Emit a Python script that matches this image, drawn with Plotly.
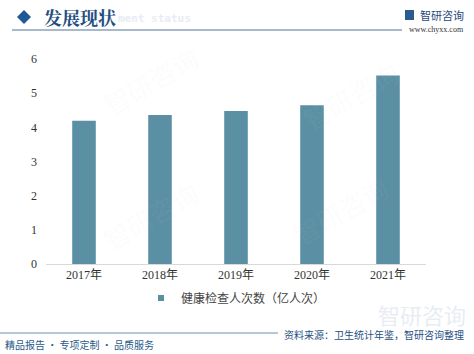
import plotly.graph_objects as go

years = ["2017年", "2018年", "2019年", "2020年", "2021年"]
values = [4.19, 4.36, 4.48, 4.65, 5.52]
series_name = "健康检查人次数（亿人次）"
y_ticks = [0, 1, 2, 3, 4, 5, 6]

BAR = "#5B8FA3"
FONT = "Liberation Serif, Noto Sans CJK SC, serif"
CJK = "Noto Sans CJK SC, sans-serif"

W, H = 474, 354
L, R, T, B = 46, 426, 59, 264  # plot area in pixels

fig = go.Figure()
fig.add_trace(go.Bar(x=years, y=values, name=series_name, marker_color=BAR,
                     marker_line_width=0, width=0.31, showlegend=False))
# legend entry with a small square marker, as in the reference
fig.add_trace(go.Scatter(x=[None], y=[None], mode="markers", name=series_name,
                         marker=dict(symbol="square", size=6, color=BAR)))

fig.update_layout(
    width=W, height=H,
    margin=dict(l=L, r=W - R, t=T, b=H - B),
    paper_bgcolor="white", plot_bgcolor="white",
    showlegend=True,
    legend=dict(orientation="h", x=0.5, xanchor="center",
                y=(B - 298) / (B - T), yanchor="middle",
                font=dict(family=CJK, size=12, color="#444"),
                itemwidth=30, bgcolor="rgba(0,0,0,0)"),
    xaxis=dict(showline=True, linecolor="#d9d9d9", linewidth=1, ticks="",
               tickfont=dict(family=FONT, size=12, color="#333"), showgrid=False,
               fixedrange=True, type="category"),
    yaxis=dict(range=[0, 6], tickvals=y_ticks, showgrid=False, zeroline=False,
               showline=False, ticks="", ticklabelstandoff=8,
               tickfont=dict(family=FONT, size=12, color="#333")),
    bargap=0.69,
)


def px(x):
    return (x - L) / (R - L)


def py(y):
    return (B - y) / (B - T)


shapes = []
annotations = []

# header line
shapes.append(dict(type="line", xref="paper", yref="paper",
                   x0=px(12), x1=px(402), y0=py(30), y1=py(30),
                   line=dict(color="#8aa2bd", width=1.5)))
# diamond
cx, cy, r = 24, 17, 7
shapes.append(dict(type="path", xref="paper", yref="paper",
                   path=f"M {px(cx-r)},{py(cy)} L {px(cx)},{py(cy-r)} L {px(cx+r)},{py(cy)} L {px(cx)},{py(cy+r)} Z",
                   fillcolor="#1f5a96", line=dict(width=0)))
# footer line
shapes.append(dict(type="line", xref="paper", yref="paper",
                   x0=px(0), x1=px(278), y0=py(333), y1=py(333),
                   line=dict(color="#6f8fb3", width=1.2)))
# small logo icon
shapes.append(dict(type="rect", xref="paper", yref="paper",
                   x0=px(405), x1=px(414), y0=py(20), y1=py(10),
                   fillcolor="#2b5a8f", line=dict(width=0)))


def ann(text, x, y, size, color, family=CJK, xanchor="left", bold=False, angle=0):
    annotations.append(dict(text=f"<b>{text}</b>" if bold else text,
                            xref="paper", yref="paper", x=px(x), y=py(y),
                            xanchor=xanchor, yanchor="middle", showarrow=False,
                            textangle=angle,
                            font=dict(family=family, size=size, color=color)))


# faint watermarks
for (wx, wy) in [(150, 80), (350, 95), (150, 215), (340, 210)]:
    ann("智研咨询", wx, wy, 26, "rgba(200,212,225,0.08)", angle=-30, xanchor="center")
ann("智研咨询", 468, 314, 22, "#e8edf3", xanchor="right")

ann("ment status", 116, 18, 11, "#e8edf3", family="DejaVu Sans Mono, monospace", bold=True)
ann("发展现状", 42, 17, 18, "#1f4f80", family="Noto Serif CJK SC, Noto Sans CJK SC", bold=True)
ann("智研咨询", 418, 15, 11, "#2a4a7a")
ann("www.chyxx.com", 466, 29, 8, "#333", family="Liberation Serif, serif", xanchor="right")
ann("精品报告 · 专项定制 · 品质服务", 3, 344, 10, "#2a5a8a")
ann("资料来源：卫生统计年鉴，智研咨询整理", 466, 334, 10, "#1f4f7f", xanchor="right")

fig.update_layout(shapes=shapes, annotations=annotations)
fig.write_html("out.html")
